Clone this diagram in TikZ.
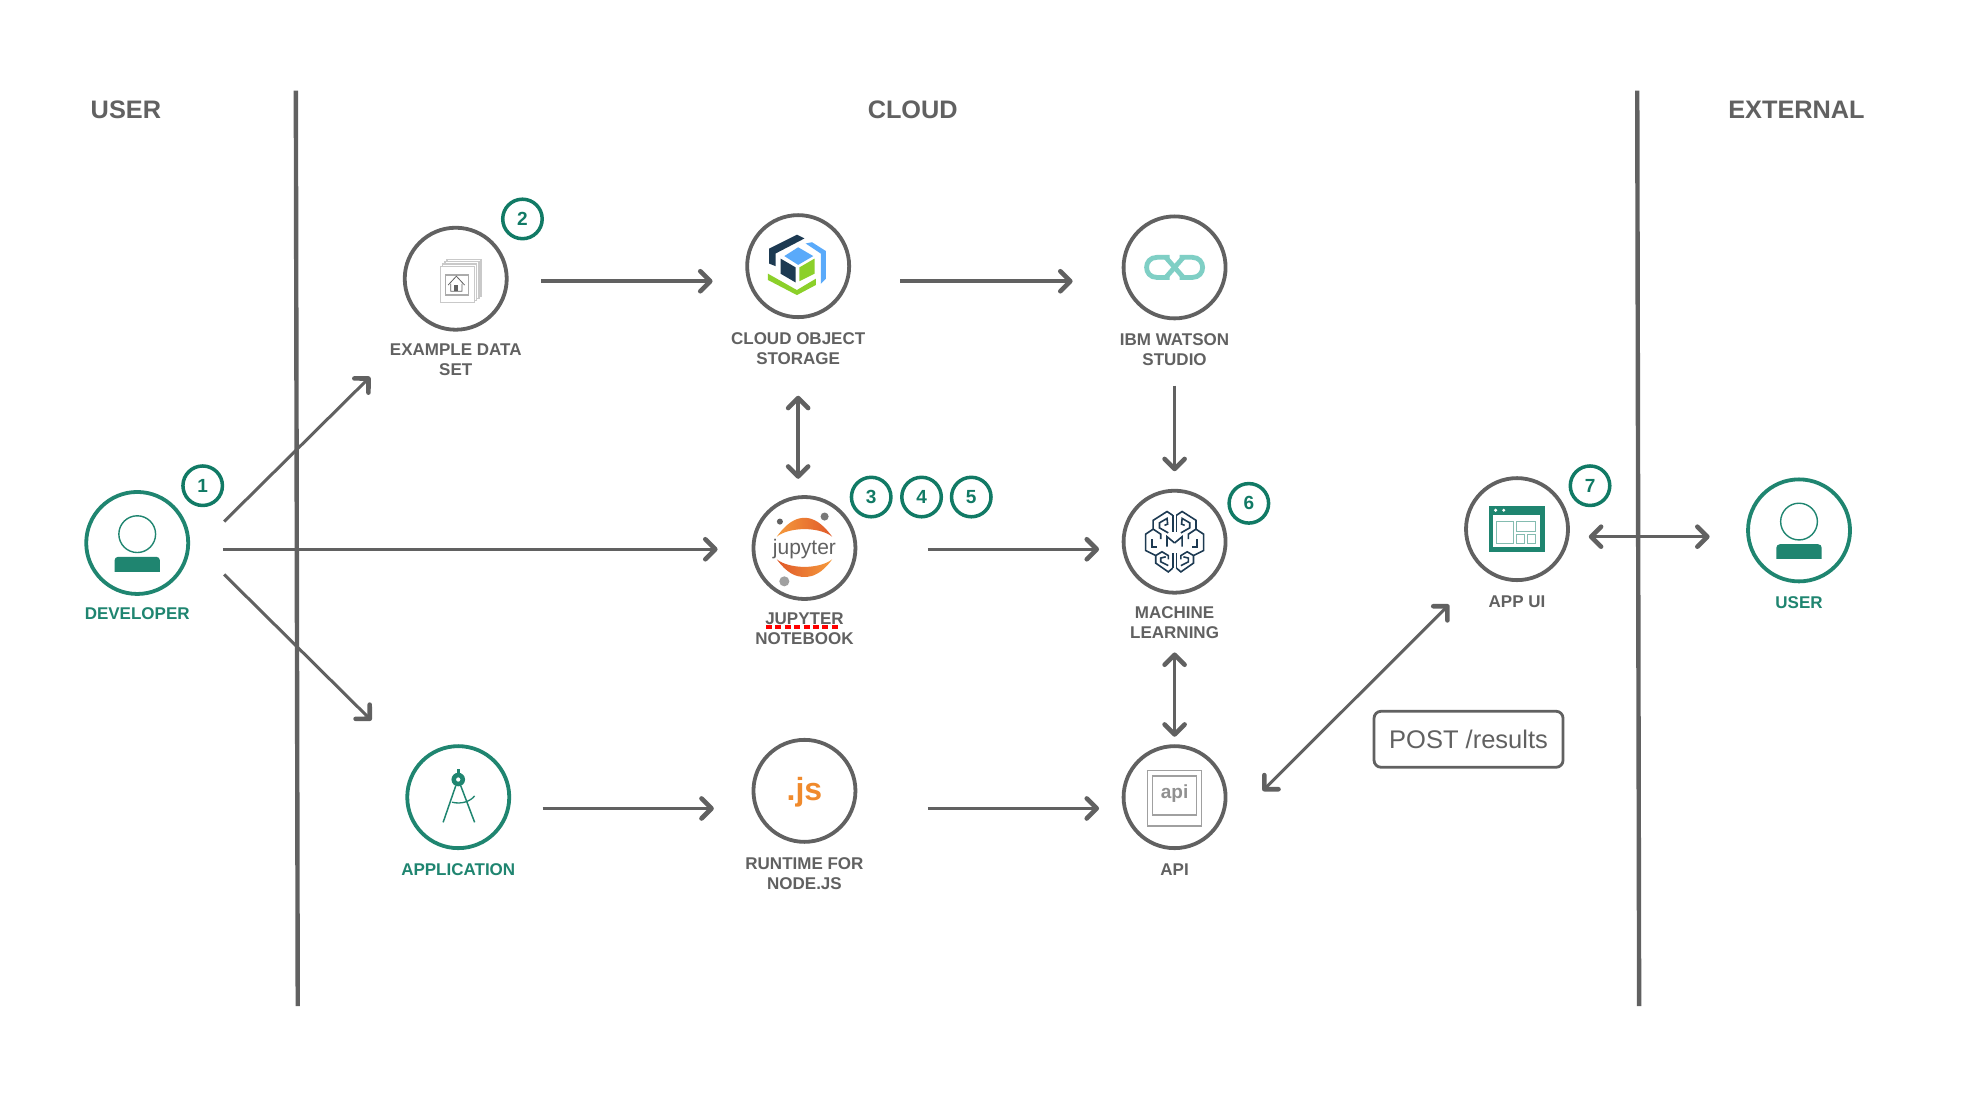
\documentclass[tikz,border=0pt]{standalone}
\usepackage{fontspec}
\setmainfont{Liberation Sans}
\usepackage{xcolor}
\usepackage{tikz}
\usetikzlibrary{arrows.meta,positioning,calc}
\definecolor{line}{HTML}{616161}
\definecolor{teal}{HTML}{1F8570}
\definecolor{badge}{HTML}{117A65}
\definecolor{navy}{HTML}{1D3A52}
\definecolor{sky}{HTML}{5AAAFA}
\definecolor{lime}{HTML}{8CD02A}
\definecolor{aqua}{HTML}{7FCFC5}
\definecolor{paper}{HTML}{C9C9C9}
\definecolor{jupdeep}{HTML}{E0592A}
\definecolor{juplight}{HTML}{F59A3C}
\definecolor{jsorange}{HTML}{F08A2C}
\tikzset{
    grayring/.style={draw=line, circle, line width=3.8pt, minimum size=102pt, inner sep=0pt},
    tealring/.style={draw=teal, circle, line width=3.8pt, minimum size=102pt, inner sep=0pt},
    badgering/.style={draw=badge, circle, line width=3.5pt, minimum size=39.5pt, inner sep=0pt, text=badge, font=\fontsize{19}{21}\selectfont\bfseries},
    graylabel/.style={text=line, align=center, font=\fontsize{17}{20}\selectfont\bfseries},
    teallabel/.style={text=teal, align=center, font=\fontsize{17}{20}\selectfont\bfseries},
    zonetitle/.style={text=line, font=\fontsize{25.3}{28}\selectfont\bfseries},
    flow/.style={draw=line, line width=3.5pt, -{Straight Barb[length=10pt,width=20pt,line width=4.6pt,round]}},
    twoflow/.style={draw=line, line width=3.5pt, {Straight Barb[length=10pt,width=20pt,line width=4.6pt,round]}-{Straight Barb[length=10pt,width=20pt,line width=4.6pt,round]}},
    divider/.style={draw=line, line width=4.4pt},
}
\newcommand{\personicon}{%
    \draw[teal, line width=1.4pt] (0,-7) circle (14.6);
    \fill[teal, rounded corners=3.5pt] (-18,30) -- (-18,11) -- (18,11) -- (18,30) -- cycle;
    \fill[white] (-20,23) rectangle (20,32);
}
\begin{document}
\begin{tikzpicture}[x=1.25893pt,y=-1.2583pt]
    \useasboundingbox (0,0) rectangle (1568,871);
    \fill[white] (0,0) rectangle (1568,871);

    % zones
    \coordinate (leftTop) at (235,72);
    \coordinate (leftBottom) at (236.5,799.5);
    \coordinate (rightTop) at (1300.5,72);
    \coordinate (rightBottom) at (1302,799.5);
    \draw[divider] (leftTop) -- (leftBottom);
    \draw[divider] (rightTop) -- (rightBottom);
    \node[zonetitle] (titleUser) at (100,87) {USER};
    \node[zonetitle] (titleCloud) at (725,87) {CLOUD};
    \node[zonetitle] (titleExternal) at (1427,87) {EXTERNAL};

    % rings
    \node[tealring] (developer) at (109,431.5) {};
    \node[grayring] (example) at (362,221.5) {};
    \node[grayring] (cos) at (634,211.5) {};
    \node[grayring] (watson) at (933,212.5) {};
    \node[grayring] (jupyter) at (639,435.5) {};
    \node[grayring] (ml) at (933,430.5) {};
    \node[grayring] (appui) at (1205,420.5) {};
    \node[tealring] (user) at (1429,421.5) {};
    \node[tealring] (application) at (364,633.5) {};
    \node[grayring] (nodejs) at (639,628.5) {};
    \node[grayring] (api) at (933,633.5) {};

    % labels
    \node[teallabel] (developerText) at (109,488) {DEVELOPER};
    \node[graylabel] (exampleText) at (362,286) {EXAMPLE DATA\\SET};
    \node[graylabel] (cosText) at (634,277) {CLOUD OBJECT\\STORAGE};
    \node[graylabel] (watsonText) at (933,277.5) {IBM WATSON\\STUDIO};
    \node[graylabel] (jupyterText) at (639,500) {JUPYTER\\NOTEBOOK};
    \node[graylabel] (mlText) at (933,494.5) {MACHINE\\LEARNING};
    \node[graylabel] (appuiText) at (1205,478) {APP UI};
    \node[teallabel] (userText) at (1429,479) {USER};
    \node[teallabel] (applicationText) at (364,691) {APPLICATION};
    \node[graylabel] (nodejsText) at (639,694) {RUNTIME FOR\\NODE.JS};
    \node[graylabel] (apiText) at (933,691) {API};
    \coordinate (spellLeft) at (608.5,498.2);
    \coordinate (spellRight) at (668,498.2);
    \draw[red, line width=3.6pt, dash pattern=on 6pt off 3.4pt] (spellLeft) -- (spellRight);

    % badges
    \node[badgering] (one) at (161,386) {1};
    \node[badgering] (two) at (415,174) {2};
    \node[badgering] (three) at (692,395) {3};
    \node[badgering] (four) at (732,395) {4};
    \node[badgering] (five) at (771.5,395) {5};
    \node[badgering] (six) at (992,400) {6};
    \node[badgering] (seven) at (1263,386) {7};

    \node[draw=line, line width=2.8pt, rounded corners=7pt, minimum width=189pt, minimum height=56pt, text=line, font=\fontsize{25.5}{28}\selectfont] (post) at (1166.5,587.5) {POST /results};

    % connectors
    \draw[flow, line width=3pt] ([shift={(69,-17)}]developer.center) -- ([shift={(-68,78)}]example.center);
    \draw[flow] ([shift={(68,5)}]developer.center) -- ([shift={(-69,1)}]jupyter.center);
    \draw[flow, line width=3pt] ([shift={(69,25)}]developer.center) -- ([shift={(-69,-61)}]application.center);
    \draw[flow] ([shift={(68,2)}]example.center) -- ([shift={(-68,12)}]cos.center);
    \draw[flow] ([shift={(81,12)}]cos.center) -- ([shift={(-81,11)}]watson.center);
    \draw[flow] ([shift={(0,94)}]watson.center) -- ([shift={(0,-56)}]ml.center);
    \draw[twoflow] ([shift={(0,103)}]cos.center) -- ([shift={(-5,-55)}]jupyter.center);
    \draw[flow] ([shift={(98,1)}]jupyter.center) -- ([shift={(-60,6)}]ml.center);
    \draw[twoflow] ([shift={(0,88)}]ml.center) -- ([shift={(0,-48)}]api.center);
    \draw[flow] ([shift={(67,9)}]application.center) -- ([shift={(-72,14)}]nodejs.center);
    \draw[flow] ([shift={(98,14)}]nodejs.center) -- ([shift={(-60,9)}]api.center);
    \draw[twoflow, line width=3pt] ([shift={(70,-5)}]api.center) -- ([shift={(-54,60)}]appui.center);
    \draw[twoflow, line width=3pt] ([shift={(57,6)}]appui.center) -- ([shift={(-71,5)}]user.center);

    % icons
    \begin{scope}[shift={(109,431.5)}]
        \personicon
    \end{scope}
    \begin{scope}[shift={(1429,421.5)}]
        \personicon
    \end{scope}

    % data set
    \begin{scope}[shift={(362,221.5)}, line width=1.2pt]
        \foreach \off in {5,3.4,1.7} {
            \filldraw[draw=paper, fill=white, shift={(\off,-\off)}] (-12,-10) rectangle (15,19);
        }
        \filldraw[draw=paper, fill=white] (-12,-10) rectangle (15,19);
        \draw[draw=paper!85!black] (-8,-3) rectangle (10,13);
        \draw[line, line width=0.8pt] (-6,5) -- (0.5,-2) -- (7,5) (-4,4) -- (-4,10) -- (5,10) -- (5,4);
        \fill[line] (-1,5) rectangle (2,10);
    \end{scope}

    % object storage
    \begin{scope}[shift={(634,211.5)}]
        \fill[navy] (-23,-14) -- (-1,-25) -- (5,-22) -- (-18,-10) -- (-18,0) -- (-23,-2) -- cycle;
        \fill[sky] (6,-18) -- (11,-19) -- (22,-12) -- (22,10) -- (18,14) -- (18,-10) -- cycle;
        \fill[sky] (0,-15) -- (12,-8) -- (0,-1) -- (-11,-8) -- cycle;
        \fill[navy] (-14,-6) -- (-2,1) -- (-2,13) -- (-14,6) -- cycle;
        \fill[lime] (1,1) -- (13,-6) -- (13,6) -- (1,12) -- cycle;
        \fill[lime] (-24,6) -- (-1,19) -- (14,10) -- (14,15) -- (-1,23) -- (-24,11) -- cycle;
    \end{scope}

    % watson
    \begin{scope}[shift={(933,212.5)}]
        \draw[aqua, line width=4.8pt] (-7,-8) -- (7,8) (7,-8) -- (-7,8);
        \draw[aqua, line width=4.8pt] (-4,-8) -- (-14,-8) .. controls (-25,-8) and (-25,8) .. (-14,8) -- (-4,8);
        \draw[aqua, line width=4.8pt] (4,-8) -- (14,-8) .. controls (25,-8) and (25,8) .. (14,8) -- (4,8);
    \end{scope}

    % jupyter
    \begin{scope}[shift={(639,435.5)}]
        \shade[left color=juplight, right color=jupdeep] (-22,-9) .. controls (-14,-20) and (-7,-24) .. (0,-24) .. controls (7,-24) and (14,-20) .. (22,-9) .. controls (12,-17) and (-12,-17) .. (-22,-9) -- cycle;
        \shade[left color=jupdeep, right color=juplight] (-22,9) .. controls (-14,20) and (-7,23) .. (0,23) .. controls (7,23) and (14,20) .. (22,9) .. controls (12,17) and (-12,17) .. (-22,9) -- cycle;
        \node[text=line, font=\fontsize{21}{24}\selectfont] (jupyterWord) at (0,0.5) {jupyter};
        \fill[line] (-19.5,-21) circle (2.4);
        \fill[line!85] (16,-25) circle (3.2);
        \fill[line!60] (-16,26.5) circle (4);
    \end{scope}

    % brain
    \begin{scope}[shift={(933,430.5)}, navy, line width=1.6pt]
        \foreach \side in {1,-1} {
            \begin{scope}[xscale=\side]
                \draw (-1.5,-21) -- (-6,-24) -- (-17,-17) -- (-17,-10) -- (-23,-6) -- (-23,7) -- (-15,11) -- (-15,17) -- (-5,24) -- (-1.5,21);
                \draw (-1.5,-21) -- (-1.5,-8) (-1.5,21) -- (-1.5,9);
                \draw (-5,-7) -- (-12,-11) -- (-12,-15) -- (-6,-18.5) -- (-5.5,-14) -- (-8,-13);
                \draw (-17,-10) -- (-11,-6) -- (-11,-2);
                \draw (-18,-2) -- (-18,4) -- (-14,4);
                \draw (-6,4) -- (-6,-4) -- (0,1);
                \draw (-15,11) -- (-10,8) -- (-5,11) -- (-5,14);
                \draw (-5,19) -- (-11,16) -- (-11,13) -- (-7,12);
            \end{scope}
        }
    \end{scope}

    % application
    \begin{scope}[shift={(364,633.5)}, teal]
        \draw[line width=1.5pt] (-2,-9) -- (-12,20) (2,-9) -- (13,20);
        \draw[line width=1.3pt] (-5,4) .. controls (3,6) and (10,3) .. (13,-1);
        \fill (-1.3,-22) rectangle (1.3,-16);
        \fill[even odd rule] (0,-14) circle (5.4) (0,-14) circle (1.8);
    \end{scope}

    % node.js
    \node[text=jsorange, font=\fontsize{32}{34}\selectfont\bfseries] (jsWord) at (639,629.5) {.js};

    % api
    \begin{scope}[shift={(933,633.5)}, line!60, line width=1.5pt]
        \draw (-21.5,-21) rectangle (21.5,23);
        \draw (-17.5,-17) rectangle (17.5,14);
        \node[text=line!70, font=\fontsize{19}{22}\selectfont\bfseries] (apiWord) at (0,-3) {api};
    \end{scope}

    % app ui
    \begin{scope}[shift={(1205,420.5)}]
        \fill[teal] (-22,-18) rectangle (22,18);
        \fill[white] (-19,-11.4) rectangle (18.5,14.5);
        \draw[teal!55, line width=1.1pt] (-16,-6) rectangle (-2.6,11.4) (-0.5,-6) rectangle (14.5,2) (-0.5,4) rectangle (6,11.4) (8,4) rectangle (14.5,11.4);
        \fill[white] (-17,-15) circle (1.3) (-10.5,-15) circle (1.3);
    \end{scope}
\end{tikzpicture}
\end{document}
